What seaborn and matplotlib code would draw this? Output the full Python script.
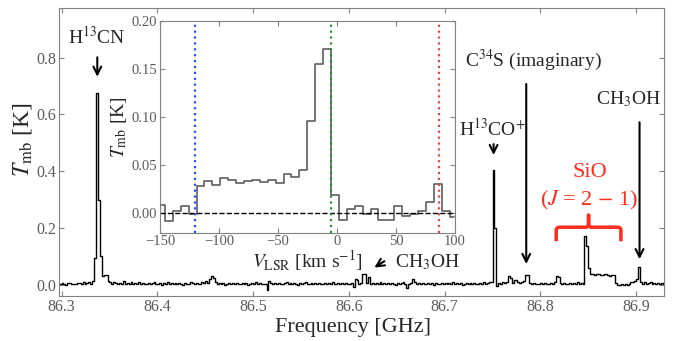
import numpy as np
import matplotlib
matplotlib.use("Agg")
import matplotlib.pyplot as plt
import matplotlib.transforms as mtransforms
import seaborn as sns

# main spectrum: 2 MHz channels from 86.296 GHz, T_mb in mK
chan_start = 86.296
chan_width = 0.002
tmb_mk = [
    4, 2, 6, 3, 0, 5, 7, 2, 4, 1, 6, 5, 2, 8, 3, 5, 9, 4, 12, 93,
    674, 300, 100, 32, 34, 34, 12, 8, 3, 10, 5, 2, 7, 4, 12, 3, 6, 1, 9, 4,
    5, 2, 8, 3, 6, 4, 1, 7, 3, 5, 9, 2, 4, 6, 0, 5, 3, 8, 2, 6,
    4, 7, 1, 5, 3, -2, 6, 4, 2, 8, 5, 3, 6, 1, 4, 9, 5, 12, 7, 20,
    30, 25, 10, 4, 6, 2, 5, -3, 4, 7, 3, 5, 1, 6, 4, 2, 7, 3, 5, 0,
    4, 6, 2, 8, 3, 5, 1, 4, 2, -18, 12, 5, 3, 7, 2, 6, 4, 1, 5, 8,
    3, 5, 2, 7, 4, 0, 6, 3, 5, 9, 2, 4, 6, 1, 5, 3, 7, 2, 4, 6,
    1, 5, 3, 8, 4, 2, 6, 3, 5, 1, 7, 4, 2, 6, -10, 20, 15, 4, 6, 38,
    36, 5, 28, 3, 7, 2, 5, 4, 8, 1, 6, 3, 5, 2, 7, 4, 0, 6, 3, 5,
    8, 2, -12, 4, 6, 20, 8, 3, 5, 1, 6, 4, 2, 7, 3, 5, 0, 6, 4, 2,
    7, 3, 5, 1, 6, 4, 8, 2, 5, 3, 6, 0, 4, 7, 2, 5, 3, 6, 4, 1,
    5, 3, 8, 4, 6, 10, 8,
    403, 200, -4, 5, 3, 10, 6, 8, 30, 25, 6, 17, 15,
    8, 5, 10, 12, 35, 33, 5, 3, 6, 2, 4, 1, 5, 3, 7, 2, 4, 6, 3, 8,
    30, 28, 5, 3, 6, 1, 4, 7, 2, 5, 3, 8, 4, 6, 3,
    173, 135, 59, 38, 36, 35, 37, 36, 33, 35, 39, 36, 34, 32, 35, 33,
    5, 0, -3, 2, -1, 4, -2, 1, 10, 8, 12, 20,
    62, 8, 3, 10, 2, 5, 8, 4, 6, 3, 5, 2, 6, 4,
]

# inset: SiO profile, 6.7 km/s channels starting at -152.5 km/s
vel_start = -152.5
vel_width = 6.7
sio_tmb = [
    0.009, -0.008, 0.002, 0.008, -0.001, 0.028, 0.034, 0.030, 0.037, 0.035,
    0.032, 0.034, 0.035, 0.033, 0.035, 0.032, 0.041, 0.038, 0.045, 0.096,
    0.155, 0.171,
    0.019, -0.007, 0.0045, 0.008, -0.001, 0.0045, -0.007, -0.007, 0.008, -0.003,
    -0.001, 0.002, 0.012, 0.031, 0.002, -0.004,
]
vlines = [-120, -5.5, 86.5]
vline_colors = ["#2b4bff", "#2e8b2e", "#ff3a3a"]

freq = chan_start + chan_width * (np.arange(len(tmb_mk)) + 0.5)
tmb = np.array(tmb_mk) / 1000.0
vel = vel_start + vel_width * (np.arange(len(sio_tmb)) + 0.5)

sns.set_style("ticks")
plt.rcParams["font.family"] = ["Liberation Serif", "DejaVu Serif"]
plt.rcParams["mathtext.fontset"] = "stix"
grey = "#808080"
plt.rcParams.update({
    "axes.edgecolor": grey,
    "xtick.color": grey, "ytick.color": grey,
    "xtick.labelcolor": "#5a5a5a", "ytick.labelcolor": "#5a5a5a",
    "xtick.direction": "in", "ytick.direction": "in",
    "xtick.top": True, "ytick.right": True,
    "xtick.major.size": 3.5, "ytick.major.size": 3.5,
})

fig = plt.figure(figsize=(6.74, 3.41), dpi=100)
ax = fig.add_axes([0.0871, 0.132, 0.898, 0.8446])
sns.lineplot(x=freq, y=tmb, drawstyle="steps-mid", color="k", lw=1, ax=ax)
ax.set_xlim(86.297, 86.929)
ax.set_ylim(-0.04, 0.975)
ax.set_xticks([86.3, 86.4, 86.5, 86.6, 86.7, 86.8, 86.9])
ax.set_yticks([0.0, 0.2, 0.4, 0.6, 0.8])
ax.tick_params(labelsize=11.5, pad=2)
ax.set_xlabel("Frequency [GHz]", fontsize=16)
ax.xaxis.set_label_coords(0.486, -0.075)
ax.set_ylabel(r"$T_\mathrm{mb}$ [K]", fontsize=17)
ax.yaxis.set_label_coords(-0.04, 0.542)

arrow = dict(arrowstyle="->", color="k", lw=1.5, mutation_scale=14)
lines = [
    (r"H$^{13}$CN", 86.3372, 0.875, (86.3373, 0.723), (86.3373, 0.811)),
    (r"C$^{34}$S (imaginary)", 86.7925, 0.79, (86.7852, 0.063), (86.7852, 0.717)),
    (r"H$^{13}$CO$^{+}$", 86.7500, 0.55, (86.7511, 0.447), (86.7511, 0.505)),
    (r"CH$_3$OH", 86.8917, 0.655, (86.9035, 0.080), (86.9035, 0.582)),
]
for label, tx, ty, head, tail in lines:
    ax.text(tx, ty, label, fontsize=14, ha="center", va="center")
    ax.annotate("", xy=head, xytext=tail, arrowprops=arrow)
ax.text(86.6485, 0.080, r"CH$_3$OH", fontsize=14, ha="left", va="center")
ax.annotate("", xy=(86.6242, 0.055), xytext=(86.6395, 0.088), arrowprops=arrow)

red = "#ff2b1c"
ax.text(86.8513, 0.395, "SiO", fontsize=16, color=red, ha="center", va="center")
ax.text(86.8510, 0.296, r"($J$ = 2 $-$ 1)", fontsize=16, color=red,
        ha="center", va="center")

# curly brace, built in inches around its lower-left corner
w, h, tip, r = 0.647, 0.14, 0.12, 0.03
t = np.linspace(0, np.pi / 2, 10)
left = np.concatenate([
    [[0, 0]],
    np.column_stack([r - r * np.cos(t), h - r + r * np.sin(t)]),
    np.column_stack([w / 2 - r + r * np.sin(t), h + r - r * np.cos(t)]),
    [[w / 2, h + tip]],
])
right = left[::-1].copy()
right[:, 0] = w - right[:, 0]
brace = np.vstack([left, right])
trans = fig.dpi_scale_trans + mtransforms.ScaledTranslation(86.8165, 0.153, ax.transData)
ax.plot(brace[:, 0], brace[:, 1], color=red, lw=2.5, transform=trans,
        solid_capstyle="butt", solid_joinstyle="round")

axins = fig.add_axes([0.2374, 0.3176, 0.4377, 0.6217])
axins.set_facecolor("white")
sns.lineplot(x=vel, y=sio_tmb, drawstyle="steps-mid", color="#5e5e5e", lw=1.2, ax=axins)
axins.axhline(0, color="k", ls="--", lw=1)
for v, c in zip(vlines, vline_colors):
    axins.axvline(v, color=c, ls=":", lw=1.6)
axins.set_xlim(-150, 100)
axins.set_ylim(-0.02, 0.20)
axins.set_xticks([-150, -100, -50, 0, 50, 100])
axins.set_yticks([0.0, 0.05, 0.10, 0.15, 0.20])
axins.yaxis.set_major_formatter(matplotlib.ticker.FormatStrFormatter("%.2f"))
axins.tick_params(labelsize=10.5, pad=2)
axins.set_xlabel(r"$V_\mathrm{LSR}$ [km s$^{-1}$]", fontsize=14, labelpad=0)
axins.set_ylabel(r"$T_\mathrm{mb}$ [K]", fontsize=14, labelpad=2)

fig.savefig("out.png", dpi=100)
